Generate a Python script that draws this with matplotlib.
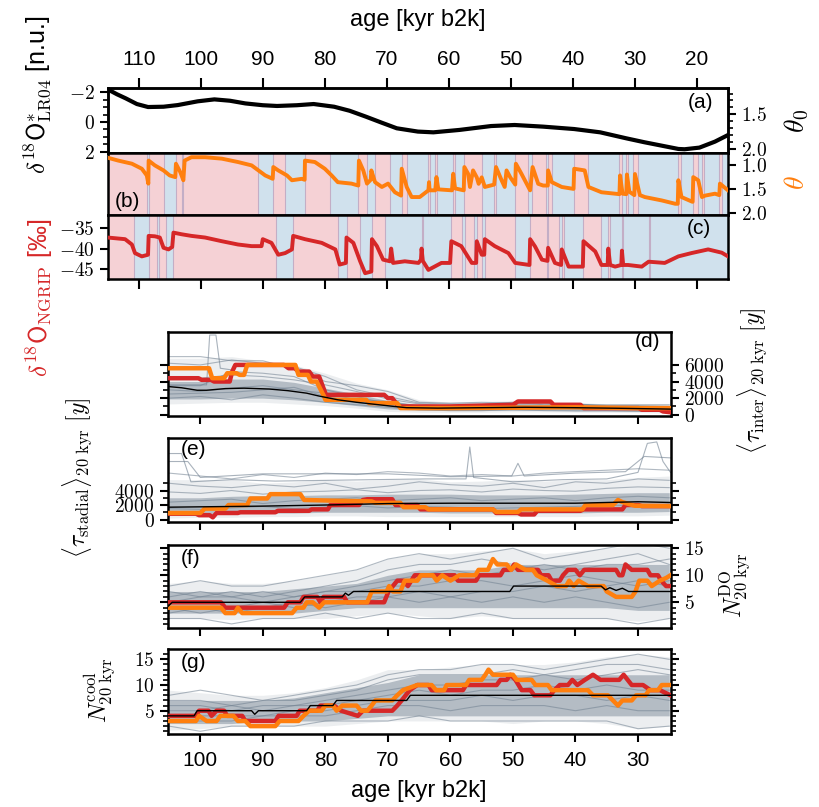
import matplotlib
matplotlib.use("Agg")
import matplotlib.pyplot as plt
from matplotlib.ticker import FixedLocator, FuncFormatter, NullFormatter

plt.rcParams['font.family'] = ['Liberation Sans', 'DejaVu Sans']
plt.rcParams['mathtext.fontset'] = 'cm'
plt.rcParams['axes.linewidth'] = 1.8

W, H = 819, 807
ORANGE = '#ff7f0e'
RED = '#d62728'
PINK = '#f5d1d5'
BLUE = '#d0e1ed'
EDGE = '#c3aec6'
GREY = '#708090'
YTS = 14

# ---------------- data: top block ----------------
lr04_age = [115.0, 113.5, 112.1, 110.3, 108.5, 106.0, 103.7, 100.5, 97.8, 95.3, 92.8, 90.0,
            87.7, 84.5, 81.8, 78.5, 76.0, 73.4, 70.8, 68.4, 65.0, 62.5, 58.3, 53.2, 49.4,
            44.8, 39.8, 35.6, 31.4, 28.5, 26.3, 23.0, 22.0, 19.6, 17.1, 15.0]
lr04_val = [-2.18, -1.85, -1.58, -1.2, -1.0, -1.02, -1.13, -1.38, -1.51, -1.42, -1.24, -1.12,
            -1.07, -1.12, -1.2, -1.02, -0.75, -0.36, 0.05, 0.42, 0.64, 0.69, 0.53, 0.27, 0.2,
            0.31, 0.47, 0.69, 1.09, 1.35, 1.53, 1.8, 1.82, 1.71, 1.31, 0.87]

theta_age = [115.0, 113.3, 111.1, 109.5, 108.7, 108.45, 108.4, 107.4, 106.0, 105.0, 104.1, 104.0,
             103.3, 102.8, 102.6, 101.5, 99.3, 96.6, 94.0, 91.8, 90.7, 89.6, 88.4, 88.3, 87.5,
             86.1, 85.3, 83.7, 83.25, 83.2, 81.6, 80.0, 78.9, 77.9, 75.7, 74.6, 74.5, 73.8,
             73.2, 72.6, 72.5, 71.9, 70.8, 69.8, 68.7, 67.7, 67.6, 66.8, 66.0, 64.7, 63.3,
             63.2, 63.1, 62.2, 62.0, 61.7, 59.5, 59.3, 59.0, 57.6, 57.5, 56.9, 56.6, 56.1,
             55.5, 55.2, 54.7, 54.2, 52.7, 52.4, 51.5, 51.0, 50.7, 50.1, 49.3, 49.2, 48.3,
             46.9, 46.5, 45.6, 44.8, 44.05, 44.0, 43.4, 41.8, 39.9, 39.8, 38.1, 37.5, 35.4,
             33.2, 32.5, 32.4, 32.0, 31.4, 31.3, 30.9, 30.1, 30.0, 29.2, 28.4, 25.7, 23.5,
             23.1, 23.0, 22.5, 20.9, 20.7, 20.6, 19.8, 19.2, 18.7, 17.1, 16.4, 16.3, 15.0]
theta_val = [0.84, 0.90, 0.965, 1.07, 1.21, 1.38, 0.90, 1.00, 1.105, 1.21, 1.245, 0.965,
             1.14, 1.31, 0.90, 0.83, 0.83, 0.86, 0.93, 1.00, 1.105, 1.21, 1.28, 1.035, 1.105,
             1.21, 1.31, 1.28, 1.30, 0.90, 0.93, 1.07, 1.21, 1.35, 1.38, 1.42, 0.90, 1.105,
             1.38, 1.30, 1.105, 1.35, 1.45, 1.38, 1.56, 1.63, 1.07, 1.45, 1.66, 1.66, 1.52,
             1.35, 1.52, 1.52, 1.245, 1.50, 1.52, 1.175, 1.48, 1.52, 1.035, 1.175, 1.45, 1.105,
             1.25, 1.384, 1.25, 1.45, 1.40, 1.035, 1.31, 1.45, 1.105, 1.25, 1.40, 0.965, 1.175,
             1.52, 1.035, 1.384, 1.42, 1.42, 1.105, 1.35, 1.45, 1.49, 1.07, 1.105, 1.45, 1.56,
             1.59, 1.60, 1.21, 1.59, 1.60, 1.19, 1.55, 1.62, 1.18, 1.62, 1.66, 1.73, 1.80,
             1.80, 1.31, 1.66, 1.75, 1.76, 1.245, 1.31, 1.66, 1.63, 1.59, 1.62, 1.38, 1.52]

ngrip_age = [115.0, 112.2, 111.1, 110.6, 109.5, 108.5, 108.4, 107.4, 106.6, 106.0, 105.2, 104.6,
             104.4, 103.1, 101.5, 99.3, 96.6, 94.0, 91.8, 90.2, 90.0, 88.6, 87.5, 86.4, 85.3,
             85.1, 83.2, 80.5, 78.3, 77.6, 76.6, 76.5, 75.4, 74.3, 73.5, 72.5, 72.4, 71.6,
             70.6, 69.5, 69.3, 69.0, 67.1, 64.9, 64.5, 64.4, 64.2, 63.3, 61.2, 59.8, 59.6,
             58.0, 56.3, 55.6, 55.5, 54.7, 54.3, 54.2, 52.6, 50.4, 49.3, 47.0, 46.9, 46.1,
             45.0, 44.1, 44.0, 42.9, 41.9, 41.8, 40.7, 38.4, 38.3, 36.4, 35.4, 34.4, 34.3,
             34.0, 33.2, 32.2, 32.1, 31.9, 31.1, 28.9, 27.8, 25.2, 23.0, 20.9, 18.2, 16.0, 15.0]
ngrip_val = [-37.3, -37.7, -39.0, -41.1, -41.9, -41.5, -36.9, -37.0, -37.3, -39.8, -40.2, -39.6,
             -36.1, -36.5, -36.9, -37.3, -38.2, -39.0, -39.4, -39.4, -37.7, -38.6, -41.5, -41.1, -40.2,
             -36.9, -37.7, -38.6, -40.2, -43.9, -43.5, -37.3, -38.6, -43.1, -46.0, -45.6, -37.7, -39.4,
             -42.7, -43.1, -40.0, -43.5, -43.1, -43.5, -42.7, -40.0, -43.0, -45.2, -43.5, -43.5, -38.2,
             -39.4, -43.5, -43.5, -38.2, -41.5, -41.5, -37.7, -39.4, -41.1, -43.5, -44.0, -37.7, -39.5,
             -42.7, -43.0, -39.8, -43.5, -44.0, -40.2, -44.4, -44.4, -38.2, -40.7, -44.0, -44.0, -40.0,
             -44.0, -44.4, -44.0, -40.5, -44.0, -44.0, -44.4, -43.2, -43.5, -41.9, -41.1, -40.2, -41.0, -41.9]

b_is_start = [115.0, 108.4, 104.0, 102.8, 88.3, 83.2, 74.6, 71.9, 67.6, 63.3, 62.2, 59.3, 57.5,
              52.7, 49.3, 46.6, 44.0, 39.8, 32.6, 31.5, 30.3, 23.1, 20.6, 19.2, 16.4]
b_is_end = [108.7, 105.9, 103.1, 90.7, 86.4, 79.2, 73.2, 69.5, 66.8, 63.1, 61.9, 59.0, 54.7,
            52.4, 47.2, 44.4, 43.4, 37.5, 32.1, 31.1, 29.5, 22.6, 19.8, 18.9, 16.0]
c_is_start = [115.0, 108.4, 106.8, 104.4, 85.1, 76.5, 72.4, 64.4, 59.7, 57.4, 55.5, 54.2, 46.9,
              44.0, 41.8, 38.3, 34.3, 32.1, 27.8]
c_is_end = [110.7, 107.1, 105.6, 87.8, 77.8, 74.3, 70.3, 64.2, 57.9, 55.9, 54.7, 49.3, 44.2,
            42.2, 41.5, 35.4, 34.0, 31.9, 27.6]

# ---------------- data: bottom block ----------------
env_age = [105, 100, 95, 90, 85, 80, 75, 70, 65, 60, 55, 50, 45, 40, 35, 30, 25]

# (d) tau_inter
d_red_age = [105.2, 100.3, 99.8, 98.3, 97.8, 95.3, 94.9, 94.4, 86.6, 85.9, 84.9, 84.3, 82.6, 82.0,
             81.0, 80.4, 79.9, 70.6, 70.0, 69.3, 68.5, 68.0, 60.0, 55.0, 50.0, 49.2, 44.0, 43.5,
             39.2, 38.7, 29.9, 29.4, 26.5, 26.0, 24.8]
d_red_val = [4400, 4400, 4200, 4200, 4000, 4000, 5200, 6000, 6000, 5600, 5600, 5200, 5200, 4600,
             4600, 3400, 2400, 2400, 2000, 2000, 1200, 1000, 1000, 1100, 1200, 1600, 1600, 1200,
             1200, 800, 800, 600, 600, 400, 300]
d_org_age = [105.2, 98.6, 98.1, 96.2, 95.7, 94.2, 93.7, 93.0, 92.5, 84.8, 84.3, 82.8, 82.3, 81.4,
             80.2, 80.0, 73.5, 73.0, 68.5, 68.0, 60.0, 50.0, 40.0, 30.0, 24.8]
d_org_val = [5600, 5600, 4400, 4400, 5000, 5000, 4800, 4800, 6000, 6000, 4800, 4800, 4000, 4000,
             2200, 1800, 1800, 1400, 1400, 800, 800, 850, 900, 800, 800]
d_blk_age = [105.2, 103, 100.5, 99, 96, 93, 89, 86, 83, 81, 78, 75, 72, 69, 67, 62, 55, 48, 40,
             33, 28, 24.8]
d_blk_val = [3400, 3250, 2950, 2950, 3150, 3200, 3100, 2900, 2600, 2250, 1800, 1500, 1250, 1000,
             850, 800, 850, 900, 850, 780, 720, 680]
d_core_lo = [1900, 1900, 2000, 2000, 1800, 1500, 1100, 700, 550, 500, 500, 550, 550, 500, 500, 450, 400]
d_core_hi = [4000, 4000, 4300, 4300, 3900, 3200, 2500, 1700, 1200, 1200, 1200, 1250, 1200, 1150, 1100, 1050, 1000]
d_out_lo = [1300, 1400, 1500, 1500, 1300, 1100, 800, 400, 300, 300, 300, 350, 350, 300, 300, 250, 200]
d_out_hi = [6800, 6800, 7000, 6500, 6000, 5000, 3800, 3000, 1800, 1500, 1600, 1700, 1500, 1500, 1300, 1300, 1300]
d_gray = [
    [3500, 3500, 5200, 5000, 4600, 3000, 2200, 1300, 1100, 1100, 1200, 1200, 1300, 1300, 1000, 1000, 900],
    [7000, 7000, 6500, 6500, 5500, 4000, 3500, 2800, 1500, 1400, 1500, 1400, 1400, 1200, 1200, 1200, 1200],
    [2000, 2200, 1800, 2400, 2000, 1500, 1200, 900, 600, 500, 500, 600, 500, 450, 450, 400, 400],
    [3000, 2800, 3200, 3500, 3000, 2600, 1800, 1600, 1000, 800, 900, 1000, 800, 800, 800, 700, 700],
    [2500, 2600, 2700, 3000, 3300, 2200, 1500, 1100, 800, 700, 700, 800, 900, 700, 600, 600, 500],
    [6200, 6000, 6600, 6200, 5800, 4600, 3000, 2200, 1400, 1300, 1300, 1500, 1200, 1300, 1100, 1100, 1000],
    [4600, 4400, 4800, 4600, 4200, 3600, 2800, 1900, 1300, 1000, 1100, 1100, 1000, 1000, 900, 900, 850],
]
d_spike_age = [105.2, 99.0, 98.5, 97.5, 96.8, 95.0]
d_spike_val = [3600, 3600, 9600, 9600, 5600, 5400]

# (e) tau_stadial
e_red_age = [105.2, 100.7, 100.2, 98.5, 98.0, 97.4, 94.0, 93.6, 88.0, 87.6, 82.6, 82.2, 79.6, 79.2,
             74.6, 74.0, 73.3, 69.3, 68.8, 65.3, 64.8, 53.2, 52.7, 49.2, 48.7, 46.6, 46.1, 39.2,
             38.7, 32.5, 32.0, 29.9, 29.4, 24.8]
e_red_val = [800, 800, 600, 600, 300, 900, 900, 1000, 1000, 1200, 1200, 1400, 1400, 2000,
             2000, 2700, 2800, 2800, 2000, 2000, 1400, 1400, 900, 900, 700, 700, 1200, 1200,
             1400, 1400, 2000, 2000, 1850, 1850]
e_org_age = [105.2, 100.0, 99.3, 96.0, 95.5, 92.5, 92.0, 89.3, 88.8, 84.0, 83.4, 78.6, 72.6, 72.0,
             68.0, 67.5, 64.0, 63.5, 53.2, 52.7, 49.2, 48.7, 38.9, 38.4, 34.0, 33.2, 32.5, 30.5, 24.8]
e_org_val = [900, 900, 1500, 1500, 2000, 2000, 2900, 2900, 3500, 3500, 2700, 2600, 2500, 2300,
             2300, 1700, 1700, 1400, 1400, 1050, 1050, 1400, 1400, 2000, 2000, 2700, 2400, 1900, 1850]
e_blk_age = [105.2, 100, 90, 80, 70, 60, 50, 40, 30, 24.8]
e_blk_val = [1700, 1750, 1850, 2000, 2200, 2250, 2250, 2250, 2450, 2350]
e_core_lo = [600, 700, 800, 900, 900, 1000, 1000, 1000, 1000, 900, 900, 900, 900, 900, 1000, 1000, 1100]
e_core_hi = [3000, 3000, 3200, 3300, 3300, 3400, 3400, 3500, 3500, 3500, 3400, 3400, 3400, 3500, 3600, 3700, 3700]
e_out_lo = [200, 300, 300, 400, 400, 500, 500, 400, 400, 400, 400, 400, 400, 400, 500, 500, 600]
e_out_hi = [5500, 5500, 5500, 5000, 5200, 5500, 5300, 5500, 5600, 5200, 5300, 5500, 5300, 5500, 5500, 5800, 6000]
e_gray = [
    [5000, 4600, 4400, 4800, 4500, 5000, 4200, 4600, 5200, 4800, 4600, 5000, 4400, 5200, 5000, 5600, 5400],
    [2400, 2600, 2800, 2200, 2600, 2800, 3000, 2600, 2800, 3000, 2600, 2800, 3000, 2600, 3000, 3200, 3000],
    [1500, 1400, 1600, 1800, 1500, 1700, 1900, 1600, 1800, 1700, 1500, 1600, 1700, 1800, 2000, 1900, 2100],
    [3800, 3600, 4000, 3500, 3800, 3900, 4100, 3700, 4000, 4100, 3800, 4200, 4000, 3900, 4300, 4500, 4400],
    [6400, 6000, 5600, 6200, 5800, 6400, 6200, 6600, 6400, 6000, 6200, 6000, 6400, 6600, 6800, 7000, 6800],
]
e_spike1_age = [105.2, 103.0, 101.5, 95.0, 88.0, 80.0, 72.0, 64.0, 57.5, 56.9, 56.3, 50.0, 42.0,
                35.0, 30.0, 28.5, 27.0, 26.0, 24.8]
e_spike1_val = [9100, 9100, 5200, 5500, 5300, 5400, 5500, 5600, 5600, 10000, 5800, 5200, 5500,
                5600, 6500, 10500, 10700, 8000, 6500]
e_spike2_age = [105.2, 102.0, 100.0, 90.0, 80.0, 70.0, 60.0, 50.2, 49.2, 48.2, 40.0, 32.0, 29.0, 24.8]
e_spike2_val = [8000, 8000, 5800, 6300, 6300, 6300, 5900, 6000, 7750, 6000, 6400, 6600, 8700, 8500]

# (f) N_DO
f_red_age = [105.2, 96.7, 96.0, 86.6, 86.0, 84.0, 83.5, 81.3, 80.8, 80.3, 77.0, 76.5, 70.6, 69.9,
             68.5, 67.5, 66.8, 65.7, 59.3, 58.8, 55.9, 55.4, 52.0, 51.5, 50.3, 49.8, 49.2, 46.0,
             45.5, 44.3, 43.8, 42.5, 42.0, 41.2, 40.0, 39.3, 38.6, 33.5, 33.0, 32.5, 32.0, 31.0,
             28.5, 28.0, 26.8, 26.3, 25.5, 24.8]
f_red_val = [5, 5, 4, 4, 5, 5, 6, 6, 5, 6, 6, 5, 5, 7,
             9, 9, 8, 10, 10, 9, 9, 10, 10, 11, 11, 12, 11, 11,
             10, 10, 9, 9, 10, 11, 11, 10, 11, 11, 10, 10, 12, 11,
             11, 10, 10, 9, 8, 8]
f_org_age = [105.2, 96.7, 96.0, 94.5, 94.0, 93.3, 85.3, 84.6, 83.5, 83.0, 82.0, 81.0, 80.2, 73.3,
             72.6, 70.2, 69.8, 69.2, 68.0, 67.3, 65.3, 64.7, 62.8, 62.2, 61.3, 60.0, 58.6, 56.0,
             55.5, 54.0, 53.2, 52.5, 51.0, 50.3, 49.5, 48.0, 46.8, 46.2, 44.5, 43.0, 41.5, 41.0,
             40.3, 39.5, 38.0, 35.5, 35.0, 33.5, 31.0, 30.4, 29.8, 28.5, 27.8, 26.5, 25.5, 24.8]
f_org_val = [4, 4, 3, 3, 4, 3, 3, 4, 4, 5, 5, 4, 5, 5,
             7, 7, 8, 7, 7, 9, 9, 10, 10, 9, 10, 9, 10, 10,
             11, 11, 13, 12, 12, 11, 12, 11, 11, 10, 9, 8, 8, 9,
             8, 9, 8, 8, 7, 6, 6, 7, 9, 9, 8, 9, 9.5, 10]
f_blk_age = [105.2, 104.5, 84.0, 83.3, 77.3, 76.8, 76.3, 75.5, 50.5, 49.9, 35.9, 35.2, 34.5, 33.5,
             32.5, 31.5, 24.8]
f_blk_val = [4.2, 5, 5, 6, 6, 6.7, 6.3, 7, 7, 8, 8, 7.3, 7.7, 7.2, 7.6, 7, 7]
f_core_lo = [3, 3, 3, 3, 3, 3.5, 4, 4, 4, 4, 4, 4, 4, 4, 4, 3.5, 3.5]
f_core_hi = [7, 7, 7, 7, 7.5, 8, 8.5, 10, 11, 11, 11, 12, 12, 12, 12, 12, 12]
f_out_lo = [2, 2, 1.8, 2, 2, 2, 2.5, 3, 2.5, 2, 2.5, 2, 2, 2, 2, 1.5, 2]
f_out_hi = [8.5, 9, 8.5, 8.5, 9, 10, 11, 13, 14, 14, 14.5, 15, 14, 14.5, 15, 15.5, 15]
f_gray = [
    [8, 9, 8, 8, 9, 10, 11, 13, 14, 13, 14, 15, 13, 14, 15, 16, 15],
    [2, 2, 1, 2, 2, 3, 2, 3, 2, 2, 3, 2, 2, 2, 2, 1, 2],
    [6, 7, 6, 7, 6, 7, 8, 9, 10, 11, 10, 11, 12, 11, 12, 12, 13],
    [3, 4, 3, 4, 5, 4, 5, 6, 5, 6, 5, 6, 5, 6, 5, 4, 5],
    [5, 6, 6, 5, 6, 7, 7, 8, 8, 9, 9, 8, 9, 10, 9, 8, 9],
    [4, 3, 4, 5, 4, 5, 6, 6, 7, 6, 7, 7, 8, 7, 8, 9, 8],
    [7, 6, 7, 6, 7, 8, 9, 11, 12, 12, 13, 12, 11, 12, 13, 14, 12],
]

# (g) N_cool
g_red_age = [105.2, 100.7, 100.2, 98.7, 98.2, 97.4, 96.2, 95.7, 93.3, 92.8, 88.0, 87.5, 84.6, 84.1,
             81.3, 80.8, 78.6, 77.5, 74.8, 74.0, 69.3, 68.5, 67.8, 66.5, 65.3, 63.5, 63.0, 58.0,
             57.5, 52.6, 52.0, 51.0, 50.4, 49.6, 48.6, 47.2, 46.6, 44.0, 43.4, 42.5, 41.2, 40.5,
             39.7, 38.5, 37.2, 36.0, 33.0, 32.3, 31.0, 29.2, 28.0, 26.5, 24.8]
g_red_val = [4, 4, 5, 5, 4, 5, 5, 4, 4, 3, 3, 4, 4, 5,
             5, 6, 6, 5, 4, 5, 5, 6, 7, 9, 10, 10, 9, 9,
             10, 10, 11, 11, 12, 11, 9, 9, 8, 8, 9, 10, 10, 11,
             10, 11, 12, 11, 11, 12, 10, 10, 9, 9, 8]
g_org_age = [105.2, 100.7, 100.2, 99.0, 97.4, 96.8, 94.7, 94.0, 92.8, 92.0, 88.0, 87.3, 84.3, 83.5,
             82.6, 80.6, 80.0, 78.8, 78.2, 77.3, 75.0, 74.3, 73.3, 72.6, 72.0, 69.3, 68.5, 67.6,
             65.3, 63.0, 62.3, 61.0, 60.6, 57.5, 57.0, 55.0, 54.4, 53.9, 53.2, 50.0, 49.4, 47.0,
             46.4, 44.4, 43.8, 38.0, 37.2, 34.8, 34.0, 33.2, 32.5, 31.0, 30.3, 28.8, 28.2, 26.8,
             26.2, 24.8]
g_org_val = [3, 3, 4, 3, 3, 4, 4, 3, 3, 2, 2, 3, 3, 4,
             5, 5, 6, 6, 5, 6, 6, 5, 5, 6, 7, 7, 8, 9,
             10, 10, 9, 9, 10, 10, 11, 11, 12, 13, 12, 12, 11, 11,
             10, 10, 9, 9, 8, 8, 7, 6, 7, 7, 8, 8, 9, 9,
             10, 10]
g_blk_age = [105.2, 101.0, 100.5, 91.8, 91.3, 90.7, 83.0, 82.4, 78.8, 78.2, 67.0, 66.4, 24.8]
g_blk_val = [4, 4, 5, 5, 4.3, 5, 5, 6, 6, 7, 7, 8, 8]
g_core_lo = [2.5, 2.5, 2.5, 3, 3, 3, 3.5, 4, 4, 4, 4, 4, 4, 4, 4, 4, 4]
g_core_hi = [7, 7, 7, 7, 7.5, 8.5, 9.5, 10.5, 12, 12, 12, 12, 12, 12, 12, 12, 12]
g_out_lo = [1.2, 1.5, 2, 2, 2, 2, 2.5, 3, 3, 3, 3, 2.5, 3, 3, 2.5, 1.5, 2]
g_out_hi = [9, 8.5, 8, 8, 8.5, 9.5, 11, 13, 13, 13.5, 14, 14, 14, 14.5, 15.5, 16, 15.5]
g_gray = [
    [8, 9, 8, 7, 8, 9, 10, 12, 13, 13, 14, 14, 13, 14, 15, 16, 15],
    [2, 1, 2, 2, 2, 3, 3, 3, 4, 3, 3, 3, 3, 3, 3, 1.5, 2],
    [6, 6, 5, 6, 6, 7, 8, 9, 10, 10, 11, 11, 12, 11, 12, 13, 12],
    [3, 3, 3, 4, 4, 4, 5, 6, 6, 5, 6, 6, 6, 5, 6, 5, 5],
    [5, 5, 6, 5, 6, 6, 7, 8, 9, 8, 9, 9, 10, 9, 10, 9, 9],
    [4, 4, 4, 4, 5, 5, 6, 7, 7, 7, 8, 7, 8, 8, 7, 8, 7],
    [7, 7, 6, 7, 7, 8, 9, 11, 12, 12, 12, 13, 12, 13, 14, 14, 13],
]

top_ticks = [110, 100, 90, 80, 70, 60, 50, 40, 30, 20]
bot_ticks = [100, 90, 80, 70, 60, 50, 40, 30]

# ---------------- helpers ----------------
def rect(l, r, t, b):
    return [l / W, 1 - b / H, (r - l) / W, (b - t) / H]


def cm(fmt):
    return FuncFormatter(lambda v, p: '$' + (fmt % v) + '$')


fig = plt.figure(figsize=(W / 100, H / 100), dpi=100)

# ---------------- panel (a) ----------------
L, R = 107.7, 728
axa = fig.add_axes(rect(L, R, 88, 153))
axa.plot(lr04_age, lr04_val, color='black', lw=3.0, zorder=3)
axa.set_xlim(115, 15)
axa.set_ylim(2.07, -2.27)
axa.xaxis.tick_top()
axa.set_xticks(top_ticks)
axa.tick_params(axis='x', which='major', direction='out', length=7, width=1.5,
                labelsize=15, pad=7, top=True, bottom=False)
axa.yaxis.set_major_locator(FixedLocator([-2, 0, 2]))
axa.yaxis.set_minor_locator(FixedLocator([-1.5, -1, -0.5, 0.5, 1, 1.5]))
axa.yaxis.set_major_formatter(cm('%g'))
axa.tick_params(axis='y', which='major', direction='out', length=6, width=1.5, labelsize=YTS)
axa.tick_params(axis='y', which='minor', direction='out', length=3.5, width=1.2)
axa.text(0.956, 0.78, '(a)', transform=axa.transAxes, ha='center', va='center', fontsize=15)

axa2 = axa.twinx()
axa2.set_ylim(2.058, 1.12)
axa2.yaxis.set_major_locator(FixedLocator([1.5, 2.0]))
axa2.yaxis.set_minor_locator(FixedLocator([1.2, 1.3, 1.4, 1.6, 1.7, 1.8, 1.9]))
axa2.yaxis.set_major_formatter(cm('%.1f'))
axa2.tick_params(axis='y', which='major', direction='out', length=6, width=1.5, labelsize=YTS)
axa2.tick_params(axis='y', which='minor', direction='out', length=3.5, width=1.2)

# ---------------- panel (b) ----------------
axb = fig.add_axes(rect(L, R, 153, 215))
axb.axvspan(115, 15, color=BLUE, lw=0, zorder=0)
for s, e in zip(b_is_start, b_is_end):
    axb.axvspan(s, e, color=PINK, lw=0, zorder=1)
    axb.axvline(s, color=EDGE, lw=0.8, zorder=1.5)
    axb.axvline(e, color=EDGE, lw=0.8, zorder=1.5)
axb.plot(theta_age, theta_val, color=ORANGE, lw=2.8, zorder=3)
axb.set_xlim(115, 15)
axb.set_ylim(2.034, 0.742)
axb.set_xticks([])
axb.yaxis.tick_right()
axb.yaxis.set_major_locator(FixedLocator([1.0, 1.5, 2.0]))
axb.yaxis.set_major_formatter(cm('%.1f'))
axb.tick_params(axis='y', which='major', direction='out', length=6, width=1.5, labelsize=YTS,
                left=False, right=True)
axb.text(0.032, 0.22, '(b)', transform=axb.transAxes, ha='center', va='center', fontsize=15)

# ---------------- panel (c) ----------------
axc = fig.add_axes(rect(L, R, 215, 278.5))
axc.axvspan(115, 15, color=BLUE, lw=0, zorder=0)
for s, e in zip(c_is_start, c_is_end):
    axc.axvspan(s, e, color=PINK, lw=0, zorder=1)
    axc.axvline(s, color=EDGE, lw=0.8, zorder=1.5)
    axc.axvline(e, color=EDGE, lw=0.8, zorder=1.5)
axc.plot(ngrip_age, ngrip_val, color=RED, lw=2.8, zorder=3)
axc.set_xlim(115, 15)
axc.set_ylim(-47.3, -31.8)
axc.set_xticks(top_ticks)
axc.xaxis.set_major_formatter(NullFormatter())
axc.tick_params(axis='x', which='major', direction='out', length=7, width=1.5)
axc.yaxis.set_major_locator(FixedLocator([-35, -40, -45]))
axc.yaxis.set_major_formatter(cm('%g'))
axc.tick_params(axis='y', which='major', direction='out', length=6, width=1.5, labelsize=YTS)
axc.text(0.953, 0.78, '(c)', transform=axc.transAxes, ha='center', va='center', fontsize=15)

# ---------------- bottom panels ----------------
BL, BR = 167.8, 670.5


def bottom_panel(top, bot, ylim, core, outer, grays, red, org, blk, letter, lpos,
                 major, minor, fmt, side):
    ax = fig.add_axes(rect(BL, BR, top, bot))
    ax.fill_between(env_age, outer[0], outer[1], color=GREY, alpha=0.13, lw=0, zorder=1)
    ax.fill_between(env_age, core[0], core[1], color=GREY, alpha=0.45, lw=0, zorder=1.2)
    for gv in grays:
        ax.plot(env_age, gv, color=GREY, lw=0.8, alpha=0.55, zorder=1.5)
    ax.plot(red[0], red[1], color=RED, lw=3.2, zorder=3)
    ax.plot(org[0], org[1], color=ORANGE, lw=3.2, zorder=3.5)
    ax.plot(blk[0], blk[1], color='black', lw=1.0, zorder=4)
    ax.set_xlim(105.2, 24.8)
    ax.set_ylim(*ylim)
    ax.set_xticks(bot_ticks)
    ax.yaxis.set_major_locator(FixedLocator(major))
    ax.yaxis.set_minor_locator(FixedLocator(minor))
    ax.yaxis.set_major_formatter(cm(fmt))
    ax.tick_params(axis='both', which='major', direction='out', length=6, width=1.5,
                   labelsize=YTS, left=True, right=True)
    ax.tick_params(axis='y', which='minor', direction='out', length=3.5, width=1.2,
                   left=True, right=True)
    if side == 'right':
        ax.tick_params(axis='y', labelleft=False, labelright=True)
    ax.text(lpos[0], lpos[1], letter, transform=ax.transAxes, ha='center', va='center',
            fontsize=15)
    return ax


axd = bottom_panel(331.7, 416, (-150, 10000), (d_core_lo, d_core_hi), (d_out_lo, d_out_hi),
                   d_gray, (d_red_age, d_red_val), (d_org_age, d_org_val), (d_blk_age, d_blk_val),
                   '(d)', (0.954, 0.88), [0, 2000, 4000, 6000], [1000, 3000, 5000], '%d', 'right')
axd.plot(d_spike_age, d_spike_val, color=GREY, lw=0.8, alpha=0.6, zorder=1.5)
axd.xaxis.set_major_formatter(NullFormatter())

axe = bottom_panel(438.3, 521.7, (-300, 11200), (e_core_lo, e_core_hi), (e_out_lo, e_out_hi),
                   e_gray, (e_red_age, e_red_val), (e_org_age, e_org_val), (e_blk_age, e_blk_val),
                   '(e)', (0.052, 0.86), [0, 2000, 4000], [1000, 3000, 5000], '%d', 'left')
axe.plot(e_spike1_age, e_spike1_val, color=GREY, lw=0.8, alpha=0.6, zorder=1.5)
axe.plot(e_spike2_age, e_spike2_val, color=GREY, lw=0.8, alpha=0.6, zorder=1.5)
axe.xaxis.set_major_formatter(NullFormatter())

axf = bottom_panel(545, 627.7, (0.3, 15.6), (f_core_lo, f_core_hi), (f_out_lo, f_out_hi),
                   f_gray, (f_red_age, f_red_val), (f_org_age, f_org_val), (f_blk_age, f_blk_val),
                   '(f)', (0.046, 0.84), [5, 10, 15], [1, 2, 3, 4, 6, 7, 8, 9, 11, 12, 13, 14],
                   '%d', 'right')
axf.xaxis.set_major_formatter(NullFormatter())

axg = bottom_panel(649.3, 734, (0.47, 16.95), (g_core_lo, g_core_hi), (g_out_lo, g_out_hi),
                   g_gray, (g_red_age, g_red_val), (g_org_age, g_org_val), (g_blk_age, g_blk_val),
                   '(g)', (0.052, 0.85), [5, 10, 15], [1, 2, 3, 4, 6, 7, 8, 9, 11, 12, 13, 14, 16],
                   '%d', 'left')
axg.tick_params(axis='x', labelsize=15, pad=6)

# ---------------- labels ----------------
def ftxt(px, py, s, **kw):
    fig.text(px / W, 1 - py / H, s, ha='center', va='center', **kw)


ftxt(418, 20, 'age [kyr b2k]', fontsize=17)
ftxt(419, 791, 'age [kyr b2k]', fontsize=17)
ftxt(38, 95, r'$\delta^{18}\mathsf{O}^{*}_{\mathrm{LR04}}$ [n.u.]', fontsize=18, rotation=90)
ftxt(40, 298, r'$\delta^{18}\mathsf{O}_{\mathrm{NGRIP}}$ [‰]', fontsize=18, rotation=90,
     color=RED)
ftxt(797, 121, r'$\theta_0$', fontsize=20, rotation=90)
ftxt(797, 183, r'$\theta$', fontsize=20, rotation=90, color=ORANGE)
ftxt(753, 381, r'$\langle\tau_{\mathrm{inter}}\rangle_{20\ \mathrm{kyr}}\ [y]$', fontsize=17,
     rotation=90)
ftxt(78, 478, r'$\langle\tau_{\mathrm{stadial}}\rangle_{20\ \mathrm{kyr}}\ [y]$', fontsize=17,
     rotation=90)
ftxt(735, 585, r'$N^{\mathrm{DO}}_{20\ \mathrm{kyr}}$', fontsize=17, rotation=90)
ftxt(100, 690, r'$N^{\mathrm{cool}}_{20\ \mathrm{kyr}}$', fontsize=17, rotation=90)

fig.savefig('out.png', dpi=100)
